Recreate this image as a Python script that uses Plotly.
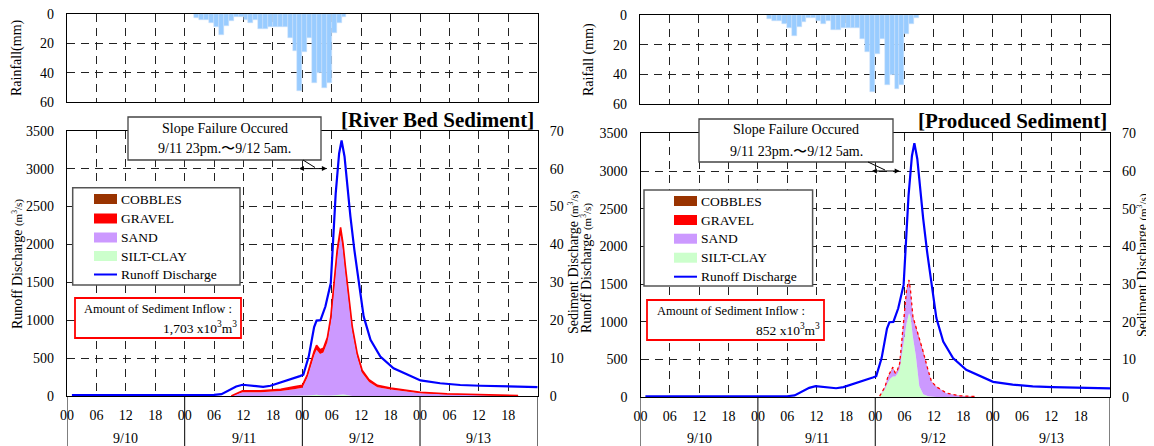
import plotly.graph_objects as go

# ---------------- data ----------------
# hourly rainfall (mm), hour counted from 9/10 00:00
rain_hour = [26, 27, 28, 29, 30, 31, 32, 33, 34, 35, 36, 37, 38, 39, 40, 41,
             42, 43, 44, 45, 46, 47, 48, 49, 50, 51, 52, 53, 54, 55, 56]
rain_mm = [3, 4, 4, 6, 9, 14, 8, 5, 2, 2, 4, 6, 4, 10, 10, 9,
           9, 9, 9, 16, 25, 52, 26, 16, 47, 40, 50, 47, 13, 6, 2]

# runoff discharge (m3/s)
q_hour = [1, 10, 20, 30, 31.5, 33, 34.5, 35.8, 37, 38.5, 40, 41.5, 43, 44.5, 46,
          47.5, 48.2, 49.3, 50.4, 50.9, 51.7, 52.7, 53.8, 54.3, 54.8, 55.5, 56.0,
          56.6, 57.2, 57.8, 58.6, 59.5, 60.5, 61.9, 63.9, 66.6, 69.4, 72.1, 76.1,
          80.2, 84.3, 90.4, 96]
q_runoff = [12, 12, 12, 14, 25, 70, 125, 148, 140, 125, 120, 135, 165, 195, 230,
            262, 280, 520, 910, 995, 1000, 1180, 1490, 2010, 2670, 3200, 3370,
            3160, 2760, 2370, 1930, 1490, 1050, 740, 520, 365, 280, 205, 168,
            145, 135, 122, 118]

# River bed sediment discharge (m3/s)
t_L = [33.5, 35.8, 39.5, 43.6, 46.3, 48.0, 49.0, 49.8, 50.4, 50.9, 51.6, 52.3,
       53.1, 53.8, 54.4, 55.1, 55.8, 56.3, 56.8, 57.5, 58.2, 59.2, 60.2, 61.6,
       63.3, 66.0, 68.0, 72.1, 77.5, 85.0, 92.0]
silt_L = [0, 0, 0, 0, 0, 0, 0.1, 0.2, 0.3, 0.3, 0.2, 0.1, 0.1, 0.1, 0.2, 0.3,
          0.4, 0.4, 0.3, 0.1, 0, 0, 0, 0, 0, 0, 0, 0, 0, 0, 0]
sand_L = [0, 1.0, 1.0, 1.3, 1.8, 2.2, 4.7, 8.2, 10.4, 11.9, 10.9, 11.4, 14.1,
          19.4, 27.0, 36.4, 42.1, 38.0, 32.1, 23.8, 17.0, 10.3, 6.1, 3.7, 2.3,
          1.7, 1.4, 0.7, 0.4, 0.2, 0]
gravel_L = [0, 0.4, 0.4, 0.5, 0.6, 0.6, 0.8, 1.0, 1.1, 1.2, 1.1, 1.1, 1.2, 1.4,
            1.6, 1.8, 2.0, 1.8, 1.6, 1.4, 1.2, 0.9, 0.7, 0.6, 0.5, 0.4, 0.4,
            0.3, 0.2, 0.15, 0.1]

# Produced sediment discharge (m3/s)
t_R = [48.9, 50.0, 50.6, 51.1, 51.6, 52.1, 52.5, 53.0, 53.4, 53.9, 54.4, 54.9,
       55.2, 55.7, 56.3, 57.0, 57.8, 58.8, 59.5, 60.5, 62.6, 65.3, 68.4]
silt_R = [0.25, 2.2, 4.0, 5.0, 5.5, 5.5, 6.2, 7.5, 11.0, 16.0, 19.6, 22.3, 21.5,
          16.0, 11.0, 3.0, 0.8, 0.3, 0.2, 0.1, 0, 0, 0]
sand_R = [0.0, 0.5, 1.35, 1.65, 2.3, 0.75, 0.75, 1.3, 3.1, 6.0, 8.6, 8.5, 6.7,
          5.1, 7.4, 12.85, 11.1, 6.75, 3.9, 2.6, 1.05, 0.35, 0.15]
gravel_R = [0.05, 0.1, 0.15, 0.15, 0.2, 0.15, 0.15, 0.2, 0.2, 0.3, 0.3, 0.3, 0.3,
            0.3, 0.3, 0.25, 0.2, 0.15, 0.1, 0.1, 0.05, 0.05, 0.05]

tick_hours = [0, 6, 12, 18, 24, 30, 36, 42, 48, 54, 60, 66, 72, 78, 84, 90]
tick_text = ["00", "06", "12", "18"] * 4
day_labels = ["9/10", "9/11", "9/12", "9/13"]
day_start = [0, 24, 48, 72, 96]
legend_names = ["COBBLES", "GRAVEL", "SAND", "SILT-CLAY", "Runoff Discharge"]
inflow = ["1,703", "852"]
titles = ["[River Bed Sediment]", "[Produced Sediment]"]

# ---------------- styling ----------------
# the page body has an 8px margin, so the figure is drawn 8px in from the window corner
OFF = 8
W, H = 1154 - OFF, 446 - OFF
FONT = "Liberation Serif"
C_COB, C_GRV, C_SAND, C_SILT, C_Q = "#993300", "#ff0000", "#cc99ff", "#ccffcc", "#0000ff"


def px(x):
    return (x - OFF) / W


def py(y):
    return 1 - (y - OFF) / H


fig = go.Figure()

panels = [
    dict(rx="x", ry="y", mx="x2", sy="y2", qy="y3",
         t=t_L, silt=silt_L, sand=sand_L, grv=gravel_L, gdash="solid", gw=1.6,
         rain_x=(67, 537.7), rain_y=(14, 102.3), main_x=(67, 537.7), main_y=(130.7, 396)),
    dict(rx="x3", ry="y4", mx="x4", sy="y5", qy="y6",
         t=t_R, silt=silt_R, sand=sand_R, grv=gravel_R, gdash="dot", gw=1.3,
         rain_x=(640, 1110), rain_y=(15, 104.3), main_x=(640.5, 1110), main_y=(133.3, 397.3)),
]

for i, p in enumerate(panels):
    fig.add_trace(go.Bar(x=rain_hour, y=rain_mm, width=1, offset=0,
                         marker=dict(color="#99ccff", line=dict(color="#cfe3fb", width=0.5)),
                         xaxis=p["rx"], yaxis=p["ry"], showlegend=False, hoverinfo="skip"))
    for name, vals, col in [("SILT-CLAY", p["silt"], C_SILT), ("SAND", p["sand"], C_SAND)]:
        fig.add_trace(go.Scatter(x=p["t"], y=vals, stackgroup="s%d" % i, mode="lines",
                                 line=dict(width=0, color=col), fillcolor=col, name=name,
                                 xaxis=p["mx"], yaxis=p["sy"], showlegend=False))
    fig.add_trace(go.Scatter(x=p["t"], y=p["grv"], stackgroup="s%d" % i, mode="lines",
                             line=dict(width=p["gw"], color=C_GRV, dash=p["gdash"]),
                             fillcolor=C_GRV, name="GRAVEL",
                             xaxis=p["mx"], yaxis=p["sy"], showlegend=False))
    fig.add_trace(go.Scatter(x=q_hour, y=q_runoff, mode="lines",
                             line=dict(width=2.2, color=C_Q), name="Runoff Discharge",
                             xaxis=p["mx"], yaxis=p["qy"], showlegend=False))

grid = dict(showgrid=True, gridcolor="#222", gridwidth=1, griddash="8px,6px")
frame = dict(showline=True, linecolor="black", linewidth=1.3, mirror=True, zeroline=False,
             ticks="", automargin=False, ticklabeloverflow="allow")
tickfont = dict(family=FONT, size=14, color="black")

layout = dict(template="none", width=W, height=H, margin=dict(l=0, r=0, t=0, b=0, autoexpand=False),
              paper_bgcolor="white", plot_bgcolor="white", showlegend=False,
              font=dict(family=FONT, size=14, color="black"), bargap=0)

for i, p in enumerate(panels):
    ax = lambda a: ("xaxis" if a[0] == "x" else "yaxis") + a[1:]
    layout[ax(p["rx"])] = dict(domain=[px(p["rain_x"][0]), px(p["rain_x"][1])], anchor=p["ry"],
                               range=[0, 96], tick0=0, dtick=6, showticklabels=False, **grid, **frame)
    layout[ax(p["ry"])] = dict(domain=[py(p["rain_y"][1]), py(p["rain_y"][0])], anchor=p["rx"],
                               range=[60, 0], tickvals=[0, 20, 40, 60], tickfont=tickfont,
                               ticklabelstandoff=9, **grid, **frame)
    layout[ax(p["mx"])] = dict(domain=[px(p["main_x"][0]), px(p["main_x"][1])], anchor=p["sy"],
                               range=[0, 96], tickvals=tick_hours, ticktext=tick_text,
                               tickfont=tickfont, ticklabelstandoff=6, **grid, **frame)
    layout[ax(p["sy"])] = dict(domain=[py(p["main_y"][1]), py(p["main_y"][0])], anchor=p["mx"],
                               side="right", range=[0, 70], dtick=10, tickfont=tickfont,
                               ticklabelstandoff=8, showgrid=False, **frame)
    layout[ax(p["qy"])] = dict(overlaying=p["sy"], anchor=p["mx"], side="left",
                               range=[0, 3500], dtick=500, tickfont=tickfont,
                               ticklabelstandoff=9, **grid, **frame)

fig.update_layout(**layout)

shapes = []
annos = []


def rect(x0, y0, x1, y1, color, w=1.5):
    shapes.append(dict(type="rect", xref="paper", yref="paper", x0=px(x0), x1=px(x1),
                       y0=py(y1), y1=py(y0), line=dict(color=color, width=w), fillcolor="white"))


def text(x, y, s, size=14, anchor="center", angle=0, bold=False):
    if bold:
        s = "<b>%s</b>" % s
    annos.append(dict(xref="paper", yref="paper", x=px(x), y=py(y), text=s, showarrow=False,
                      xanchor=anchor, yanchor="middle", textangle=angle, borderpad=0,
                      font=dict(family=FONT, size=size, color="black")))


unit = " <span style='font-size:11px'>(m<sup>3</sup>/s)</span>"

# per panel decorations
deco = [
    dict(leg=(72.7, 187.7, 240, 285), sw=(94, 117), tx=120, rows=[199, 218.5, 237.5, 256, 274.5],
         slope=(128, 117, 321, 160), inflow=(75, 298, 241, 338), inr=(233, 238), iny=(308.5, 327.5),
         title=(535, 120), leader=(303, 160, 315, 167.5),
         rain_t=(17, 58, "Rainfall(mm)"), q_t=(17, 264), s_t=(573, 262)),
    dict(leg=(644, 190, 812.6, 286), sw=(674, 697), tx=700, rows=[201, 220, 238.7, 257.7, 276.7],
         slope=(699, 119, 893, 162), inflow=(647, 300, 824, 340), inr=(806, 821), iny=(310.5, 329.5),
         title=(1108, 121), leader=(868, 162, 885, 170),
         rain_t=(589, 60, "Raifall (mm)"), q_t=(586, 268), s_t=(1142, 265)),
]

for i, (p, d) in enumerate(zip(panels, deco)):
    # legend
    x0, y0, x1, y1 = d["leg"]
    rect(x0, y0, x1, y1, "#555", 1.5)
    cols = [C_COB, C_GRV, C_SAND, C_SILT]
    for k, name in enumerate(legend_names):
        yy = d["rows"][k]
        if k < 4:
            shapes.append(dict(type="rect", xref="paper", yref="paper", x0=px(d["sw"][0]),
                               x1=px(d["sw"][1]), y0=py(yy + 5), y1=py(yy - 5),
                               line=dict(width=0), fillcolor=cols[k]))
        else:
            shapes.append(dict(type="line", xref="paper", yref="paper", x0=px(d["sw"][0]),
                               x1=px(d["sw"][1]), y0=py(yy), y1=py(yy),
                               line=dict(width=2, color=C_Q)))
        text(d["tx"], yy, name, size=13.5, anchor="left")
    # slope failure box
    sx0, sy0, sx1, sy1 = d["slope"]
    rect(sx0, sy0, sx1, sy1, "#444", 1.3)
    text((sx0 + sx1) / 2, sy0 + 11, "Slope Failure Occured", size=14)
    text((sx0 + sx1) / 2, sy0 + 32, "9/11 23pm.〜9/12 5am.", size=14)
    lx0, ly0, lx1, ly1 = d["leader"]
    shapes.append(dict(type="line", xref="paper", yref="paper", x0=px(lx0), y0=py(ly0),
                       x1=px(lx1), y1=py(ly1), line=dict(color="black", width=1)))
    annos.append(dict(xref=p["mx"], yref=p["qy"], axref=p["mx"], ayref=p["qy"],
                      x=53, y=3000, ax=47, ay=3000, text="", showarrow=True,
                      arrowside="end+start", arrowhead=2, arrowsize=1, arrowwidth=1,
                      arrowcolor="black", standoff=0, startstandoff=0))
    # inflow box
    ix0, iy0, ix1, iy1 = d["inflow"]
    rect(ix0, iy0, ix1, iy1, "#ff0000", 1.8)
    text(d["inr"][0], d["iny"][0], "Amount of Sediment Inflow :", size=12.5, anchor="right")
    text(d["inr"][1], d["iny"][1], inflow[i] + " x10<sup>3</sup>m<sup>3</sup>", size=13.5, anchor="right")
    # title
    text(d["title"][0], d["title"][1], titles[i], size=21, anchor="right", bold=True)
    # axis titles
    text(d["rain_t"][0], d["rain_t"][1], d["rain_t"][2], size=14, angle=-90)
    text(d["q_t"][0], d["q_t"][1], "Runoff Discharge" + unit, size=14, angle=-90)
    text(d["s_t"][0], d["s_t"][1], "Sediment Discharge" + unit, size=14, angle=-90)
    # date labels and day separators under the axis
    for k, lab in enumerate(day_labels):
        annos.append(dict(xref=p["mx"], yref="paper", x=(day_start[k] + day_start[k + 1]) / 2,
                          y=py(438), text=lab, showarrow=False, yanchor="middle",
                          font=dict(family=FONT, size=14, color="black")))
    for h in day_start:
        shapes.append(dict(type="line", xref=p["mx"], yref="paper", x0=h, x1=h,
                           y0=py(p["main_y"][1]), y1=0, line=dict(color="black", width=1)))

fig.update_layout(shapes=shapes, annotations=annos)
fig.write_html("out.html")
